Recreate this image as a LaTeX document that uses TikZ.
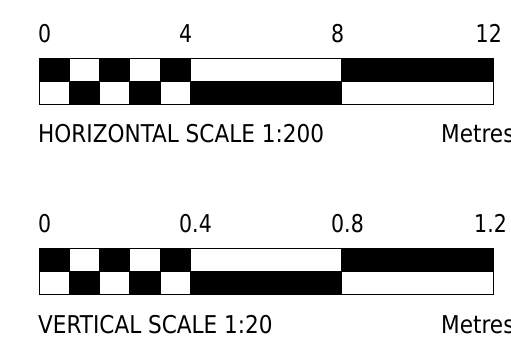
\documentclass[tikz,border=0pt]{standalone}
\usepackage{graphicx}
\usepackage{fontspec}
\setmainfont{DejaVu Sans Condensed}
\newcommand{\sqz}[1]{\scalebox{0.93}[1]{#1}}
\newcommand{\sqc}[1]{\scalebox{0.98}[1]{#1}}
\begin{document}
\begin{tikzpicture}[x=1pt,y=-1pt,
  lbl/.style={inner sep=0pt,anchor=base west,font=\fontsize{24.5}{27}\selectfont},
  lblr/.style={lbl,anchor=base east},
  blk/.style={fill=black,draw=none},
  frm/.style={draw=black,line width=0.9pt}]
\useasboundingbox (0,0) rectangle (511,347);
\clip (0,0) rectangle (511,347);
\def\u{37.8333}
\foreach \off/\la/\lb/\lc/\ld/\ldx/\cap/\nm in {0/0/4/8/12/502/{HORIZONTAL SCALE 1:200}/h, 190/0/0.4/0.8/1.2/507/{VERTICAL SCALE 1:20}/v}{
\begin{scope}[shift={(0,\off)}]
  % top row black cells
  \foreach \a/\b in {0/0.8,1.6/2.4,3.2/4,8/12}
    \fill[blk] ({39+\a*\u},58) rectangle ({39+\b*\u},81);
  % bottom row black cells
  \foreach \a/\b in {0.8/1.6,2.4/3.2,4/8}
    \fill[blk] ({39+\a*\u},81) rectangle ({39+\b*\u},104);
  \draw[frm] (39,58) rectangle (493,104);
  \draw[frm] (39,81) -- (493,81);
  \foreach \a in {0.8,1.6,2.4,3.2,4,8}
    \draw[frm] ({39+\a*\u},58) -- ({39+\a*\u},104);
  \node[lbl] (\nm0) at (38,43) {\sqz{\la}};
  \node[lbl] (\nm4) at (179,43) {\sqz{\lb}};
  \node[lbl] (\nm8) at (331,43) {\sqz{\lc}};
  \node[lblr] (\nm12) at (\ldx,43) {\sqz{\ld}};
  \node[lbl] (\nm cap) at (38,143) {\sqc{\cap}};
  \node[lbl] (\nm unit) at (441,143) {\sqc{Metres}};
\end{scope}}
\end{tikzpicture}
\end{document}
